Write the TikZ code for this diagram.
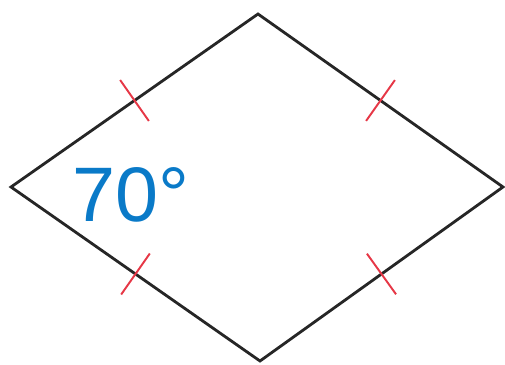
\documentclass[tikz,border=0pt]{standalone}
\usepackage{fontspec}
\newfontfamily\labelfont{Liberation Sans}
\usetikzlibrary{calc}
\definecolor{tickred}{RGB}{230,55,70}
\definecolor{angblue}{RGB}{10,122,200}
\tikzset{side/.style={line width=1.6pt, draw=black!85, line join=miter},
  hashmark/.style={line width=1.1pt, draw=tickred}}

\begin{document}
\begin{tikzpicture}[x=0.02cm, y=-0.02cm]
      \useasboundingbox (0,0) rectangle (505,365);
      \coordinate (L) at (11,187);
      \coordinate (T) at (258,14);
      \coordinate (R) at (503,187);
      \coordinate (B) at (260,361);
      \draw[side] (L) -- (T) -- (R) -- (B) -- cycle;
      % equal side marks
      \foreach \a/\b in {L/T,T/R,R/B,B/L} {
        \coordinate (m) at ($(\a)!.5!(\b)$);
        \draw[hashmark] ($(m)!0.5cm!90:(\b)$) -- ($(m)!0.5cm!-90:(\b)$);
      }
      \node[text=angblue, font=\labelfont\fontsize{44}{44}\selectfont] (ang) at (131,195) {70°};
    \end{tikzpicture}
\end{document}
